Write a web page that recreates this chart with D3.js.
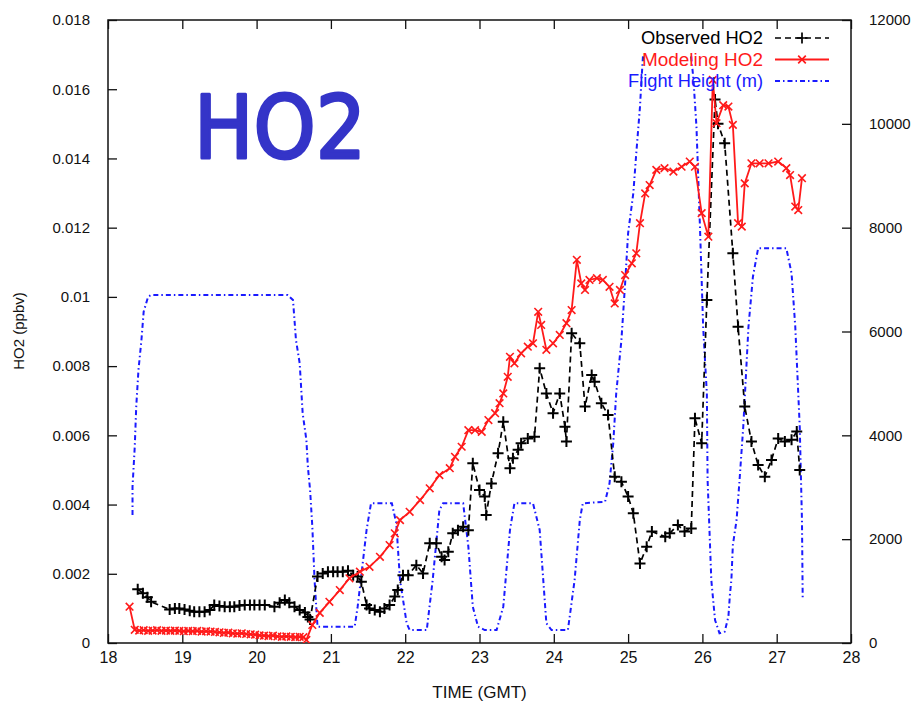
<!DOCTYPE html>
<html>
<head>
<meta charset="utf-8">
<script src="https://cdn.jsdelivr.net/npm/d3@7"></script>
<style>
  body { margin: 0; background: #fff; }
  svg { display: block; }
</style>
</head>
<body>
<svg id="chart" width="914" height="706"></svg>
<script>
// Observed HO2 (ppbv) along the flight track, time in hours GMT
const obsTime = [18.40, 18.47, 18.53, 18.58, 18.83, 18.90, 18.96, 19.03, 19.10, 19.16, 19.23, 19.30,
  19.37, 19.43, 19.50, 19.57, 19.64, 19.70, 19.77, 19.84, 19.91, 19.97, 20.04, 20.11, 20.24, 20.31,
  20.38, 20.44, 20.51, 20.58, 20.65, 20.69, 20.72, 20.82, 20.89, 20.96, 21.03, 21.09, 21.16, 21.23,
  21.30, 21.36, 21.41, 21.48, 21.52, 21.59, 21.66, 21.72, 21.79, 21.86, 21.90, 21.97, 22.04, 22.15,
  22.24, 22.33, 22.42, 22.49, 22.53, 22.58, 22.64, 22.71, 22.78, 22.85, 22.91, 23.00, 23.07, 23.09,
  23.16, 23.25, 23.32, 23.41, 23.45, 23.52, 23.56, 23.65, 23.74, 23.81, 23.90, 23.99, 24.08, 24.15,
  24.17, 24.24, 24.35, 24.42, 24.51, 24.55, 24.64, 24.73, 24.82, 24.91, 25.00, 25.07, 25.16, 25.25,
  25.32, 25.50, 25.56, 25.67, 25.76, 25.85, 25.90, 25.99, 26.06, 26.17, 26.21, 26.30, 26.41, 26.48,
  26.57, 26.66, 26.75, 26.84, 26.93, 27.02, 27.11, 27.20, 27.27, 27.31];
const obsHO2 = [0.00155, 0.00144, 0.00132, 0.00119, 0.00097, 0.00100, 0.00100, 0.00097, 0.00093, 0.00090, 0.00090, 0.00090,
  0.00095, 0.00110, 0.00107, 0.00105, 0.00105, 0.00105, 0.00108, 0.00110, 0.00110, 0.00110, 0.00110, 0.00110, 0.00105, 0.00116,
  0.00124, 0.00116, 0.00105, 0.00095, 0.00088, 0.00075, 0.00068, 0.00192, 0.00201, 0.00206, 0.00206, 0.00206, 0.00206, 0.00209,
  0.00196, 0.00192, 0.00177, 0.00110, 0.00100, 0.00095, 0.00090, 0.00100, 0.00110, 0.00134, 0.00153, 0.00196, 0.00196, 0.00225,
  0.00201, 0.00288, 0.00288, 0.00249, 0.00240, 0.00264, 0.00317, 0.00326, 0.00336, 0.00326, 0.00519, 0.00442, 0.00423, 0.00370,
  0.00461, 0.00548, 0.00639, 0.00505, 0.00534, 0.00558, 0.00577, 0.00591, 0.00596, 0.00794, 0.00721, 0.00664, 0.00721, 0.00625,
  0.00582, 0.00895, 0.00866, 0.00683, 0.00774, 0.00755, 0.00693, 0.00659, 0.00480, 0.00466, 0.00423, 0.00375, 0.00230, 0.00278,
  0.00322, 0.00307, 0.00317, 0.00341, 0.00322, 0.00331, 0.00649, 0.00577, 0.00991, 0.01570, 0.01500, 0.01444, 0.01126, 0.00914,
  0.00683, 0.00582, 0.00514, 0.00480, 0.00529, 0.00591, 0.00582, 0.00587, 0.00611, 0.00500];

// Modelled HO2 (ppbv)
const modTime = [18.29, 18.36, 18.42, 18.48, 18.54, 18.60, 18.66, 18.72, 18.78, 18.84, 18.90, 18.96, 19.02,
  19.08, 19.14, 19.20, 19.26, 19.32, 19.38, 19.44, 19.50, 19.56, 19.62, 19.68, 19.74, 19.80, 19.86,
  19.92, 19.98, 20.04, 20.10, 20.16, 20.22, 20.28, 20.34, 20.40, 20.46, 20.52, 20.58, 20.63, 20.67,
  20.75, 20.85, 20.98, 21.12, 21.25, 21.39, 21.52, 21.66, 21.79, 21.86, 21.93, 22.06, 22.20, 22.33,
  22.46, 22.60, 22.67, 22.76, 22.85, 22.94, 23.03, 23.12, 23.21, 23.27, 23.32, 23.38, 23.41, 23.47,
  23.56, 23.65, 23.72, 23.79, 23.83, 23.90, 23.99, 24.08, 24.17, 24.24, 24.31, 24.37, 24.42, 24.48,
  24.58, 24.66, 24.75, 24.82, 24.89, 24.96, 25.05, 25.11, 25.16, 25.23, 25.29, 25.38, 25.49, 25.61,
  25.72, 25.83, 25.90, 25.99, 26.08, 26.14, 26.19, 26.28, 26.35, 26.41, 26.48, 26.53, 26.57, 26.66,
  26.77, 26.89, 27.02, 27.13, 27.18, 27.25, 27.29, 27.34];
const modHO2 = [0.00105, 0.00038, 0.00036, 0.00037, 0.00035, 0.00036, 0.00037, 0.00035, 0.00036, 0.00035, 0.00036, 0.00035, 0.00034,
  0.00035, 0.00034, 0.00035, 0.00033, 0.00034, 0.00033, 0.00032, 0.00031, 0.00029, 0.00030, 0.00028, 0.00027, 0.00028, 0.00026,
  0.00025, 0.00024, 0.00022, 0.00021, 0.00020, 0.00021, 0.00019, 0.00018, 0.00019, 0.00018, 0.00017, 0.00018, 0.00017, 0.00009,
  0.00052, 0.00087, 0.00119, 0.00153, 0.00187, 0.00206, 0.00220, 0.00249, 0.00283, 0.00317, 0.00355, 0.00379, 0.00413, 0.00447,
  0.00485, 0.00505, 0.00538, 0.00567, 0.00615, 0.00615, 0.00610, 0.00644, 0.00664, 0.00693, 0.00721, 0.00769, 0.00827, 0.00808,
  0.00837, 0.00856, 0.00866, 0.00957, 0.00919, 0.00847, 0.00866, 0.00890, 0.00924, 0.00962, 0.01107, 0.01039, 0.01020, 0.01049,
  0.01054, 0.01049, 0.01029, 0.00981, 0.01020, 0.01063, 0.01097, 0.01126, 0.01213, 0.01299, 0.01323, 0.01367, 0.01372, 0.01362,
  0.01376, 0.01391, 0.01376, 0.01242, 0.01174, 0.01627, 0.01502, 0.01554, 0.01550, 0.01497, 0.01213, 0.01203, 0.01328, 0.01386,
  0.01386, 0.01386, 0.01391, 0.01372, 0.01352, 0.01261, 0.01251, 0.01343];

// Aircraft altitude (m), right-hand axis; null marks the gap in the record at cruise altitude
const altTime = [18.33, 18.33, 18.36, 18.38, 18.41, 18.45, 18.48, 18.54, 18.58, 20.42, 20.49, 20.53, 20.58,
  20.62, 20.67, 20.69, 20.72, 20.75, 20.78, 20.82, 21.32, 21.36, 21.48, 21.54, 21.82, 21.88, 21.93,
  22.02, 22.06, 22.29, 22.37, 22.46, 22.51, 22.78, 22.85, 22.91, 22.98, 23.07, 23.23, 23.32, 23.41,
  23.47, 23.72, 23.81, 23.90, 23.97, 24.19, 24.28, 24.35, 24.39, 24.69, 24.75, 24.80, 24.84, 24.91,
  24.96, 25.00, 25.07, 25.11, 25.16, 25.18, 25.20, 25.50, 25.85, 25.88, 25.92, 25.97, 26.01, 26.06, 26.07,
  26.12, 26.17, 26.23, 26.30, 26.35, 26.37, 26.39, 26.41, 26.46, 26.50, 26.55, 26.62, 26.68, 26.75,
  27.13, 27.20, 27.25, 27.29, 27.31, 27.34, 27.35];
const altHeight = [2465, 3010, 3781, 4551, 5258, 5836, 6381, 6670, 6702, 6702, 6606, 5836, 5387,
  4424, 3910, 3396, 2947, 2240, 1213, 314, 314, 699, 2176, 2691, 2691, 2311, 1213,
  379, 250, 250, 1213, 2562, 2691, 2691, 1855, 699, 314, 250, 250, 699, 2176,
  2691, 2691, 2176, 379, 250, 250, 1213, 2369, 2691, 2721, 3076, 3846, 4809, 5836,
  6928, 7891, 8661, 9432, 10329, 10843, 11300, null, 11300, 10843, 9944, 7891, 6092, 4809, 3139,
  1213, 443, 187, 218, 507, 924, 1213, 1887, 2369, 3139, 4166, 6092, 7055, 7602,
  7602, 7120, 6092, 4809, 4166, 2369, 828];

// Axis ticks
const xTicks = [18, 19, 20, 21, 22, 23, 24, 25, 26, 27, 28];
const yTicks = [0, 0.002, 0.004, 0.006, 0.008, 0.01, 0.012, 0.014, 0.016, 0.018];
const yTickLabels = ["0", "0.002", "0.004", "0.006", "0.008", "0.01", "0.012", "0.014", "0.016", "0.018"];
const y2Ticks = [0, 2000, 4000, 6000, 8000, 10000, 12000];

const FONT = "'Liberation Sans', Arial, Helvetica, sans-serif";
const svg = d3.select("#chart");

const x = d3.scaleLinear().domain([18, 28]).range([108, 851]);
const y = d3.scaleLinear().domain([0, 0.018]).range([643, 20]);
const y2 = d3.scaleLinear().domain([0, 12000]).range([643, 20]);

svg.append("rect").attr("width", 914).attr("height", 706).attr("fill", "#fff");

svg.append("clipPath").attr("id", "plot-clip")
  .append("rect")
  .attr("x", x.range()[0]).attr("y", y.range()[1])
  .attr("width", x.range()[1] - x.range()[0])
  .attr("height", y.range()[0] - y.range()[1]);

// Axes: ticks point inward, x ticks mirrored on top
function styleAxis(g) {
  g.selectAll("text").attr("font-family", FONT).attr("font-size", 15).attr("fill", "#111");
  g.selectAll("line").attr("stroke", "#111").attr("stroke-width", 1.3);
  g.select(".domain").remove();
}
svg.append("g").attr("transform", `translate(0,${y.range()[0]})`)
  .call(d3.axisBottom(x).tickValues(xTicks).tickFormat(d3.format("d"))
    .tickSizeInner(-9).tickSizeOuter(0).tickPadding(9))
  .call(g => { styleAxis(g); g.selectAll("text").attr("font-size", 16); });
svg.append("g").attr("transform", `translate(0,${y.range()[1]})`)
  .call(d3.axisTop(x).tickValues(xTicks).tickFormat("").tickSizeInner(-9).tickSizeOuter(0))
  .call(styleAxis);
svg.append("g").attr("transform", `translate(${x.range()[0]},0)`)
  .call(d3.axisLeft(y).tickValues(yTicks).tickFormat((d, i) => yTickLabels[i])
    .tickSizeInner(-9).tickSizeOuter(0).tickPadding(18))
  .call(styleAxis);
svg.append("g").attr("transform", `translate(${x.range()[1]},0)`)
  .call(d3.axisRight(y2).tickValues(y2Ticks).tickFormat(d3.format("d"))
    .tickSizeInner(-9).tickSizeOuter(0).tickPadding(18))
  .call(styleAxis);

// Plot border
svg.append("rect")
  .attr("x", x.range()[0]).attr("y", y.range()[1])
  .attr("width", x.range()[1] - x.range()[0])
  .attr("height", y.range()[0] - y.range()[1])
  .attr("fill", "none").attr("stroke", "#111").attr("stroke-width", 1.5);

// Axis titles
svg.append("text").attr("x", (x.range()[0] + x.range()[1]) / 2).attr("y", 698)
  .attr("text-anchor", "middle").attr("font-family", FONT).attr("font-size", 17).attr("fill", "#111")
  .text("TIME (GMT)");
svg.append("text").attr("transform", "translate(24,331) rotate(-90)")
  .attr("text-anchor", "middle").attr("font-family", FONT).attr("font-size", 15).attr("fill", "#111")
  .text("HO2 (ppbv)");

// Species title
svg.append("text").attr("x", 194).attr("y", 158)
  .attr("font-family", "'DejaVu Sans', sans-serif").attr("font-weight", "normal")
  .attr("font-size", 88).attr("textLength", 172).attr("lengthAdjust", "spacingAndGlyphs")
  .attr("fill", "#3434c8").attr("stroke", "#3434c8").attr("stroke-width", 3)
  .attr("stroke-linejoin", "round").attr("stroke-linecap", "round")
  .text("HO2");

const plot = svg.append("g").attr("clip-path", "url(#plot-clip)");

const obs = obsTime.map((t, i) => ({ t, v: obsHO2[i] }));
const mod = modTime.map((t, i) => ({ t, v: modHO2[i] }));
const alt = altTime.map((t, i) => ({ t, v: altHeight[i] }));

const lineY = d3.line().x(d => x(d.t)).y(d => y(d.v));
const lineY2 = d3.line().defined(d => d.v != null).x(d => x(d.t)).y(d => y2(d.v));

const BLUE = "#1a1aff", RED = "#ff1a1a", BLACK = "#000";
const blueDash = "5,3,1.5,3", blackDash = "6,4";

// Flight height
plot.append("path").datum(alt).attr("d", lineY2)
  .attr("fill", "none").attr("stroke", BLUE).attr("stroke-width", 2).attr("stroke-dasharray", blueDash);

// Observed HO2
plot.append("path").datum(obs).attr("d", lineY)
  .attr("fill", "none").attr("stroke", BLACK).attr("stroke-width", 1.7).attr("stroke-dasharray", blackDash);
const plusPath = s => `M${-s},0H${s}M0,${-s}V${s}`;
const crossPath = s => `M${-s},${-s}L${s},${s}M${-s},${s}L${s},${-s}`;
plot.append("g").selectAll("path").data(obs).join("path")
  .attr("transform", d => `translate(${x(d.t)},${y(d.v)})`)
  .attr("d", plusPath(5.5)).attr("stroke", BLACK).attr("stroke-width", 2).attr("fill", "none");

// Modelled HO2
plot.append("path").datum(mod).attr("d", lineY)
  .attr("fill", "none").attr("stroke", RED).attr("stroke-width", 1.8);
plot.append("g").selectAll("path").data(mod).join("path")
  .attr("transform", d => `translate(${x(d.t)},${y(d.v)})`)
  .attr("d", crossPath(3.8)).attr("stroke", RED).attr("stroke-width", 1.6).attr("fill", "none");

// Key
const keyItems = [
  { label: "Observed HO2", color: BLACK, dash: blackDash, marker: plusPath(5.5), width: 1.7, len: 122 },
  { label: "Modeling HO2", color: RED, dash: null, marker: crossPath(3.8), width: 1.8, len: 121 },
  { label: "Flight Height (m)", color: BLUE, dash: blueDash, marker: null, width: 2, len: 135 }
];
const key = svg.append("g");
keyItems.forEach((k, i) => {
  const cy = 38 + i * 21.5;
  key.append("text").attr("x", 763).attr("y", cy + 6).attr("text-anchor", "end")
    .attr("font-family", FONT).attr("font-size", 18).attr("fill", k.color)
    .attr("textLength", k.len).attr("lengthAdjust", "spacingAndGlyphs").text(k.label);
  key.append("line").attr("x1", 775).attr("x2", 829).attr("y1", cy).attr("y2", cy)
    .attr("stroke", k.color).attr("stroke-width", k.width).attr("stroke-dasharray", k.dash);
  if (k.marker) {
    key.append("path").attr("transform", `translate(802,${cy})`).attr("d", k.marker)
      .attr("stroke", k.color).attr("stroke-width", 1.7).attr("fill", "none");
  }
});
</script>
</body>
</html>
